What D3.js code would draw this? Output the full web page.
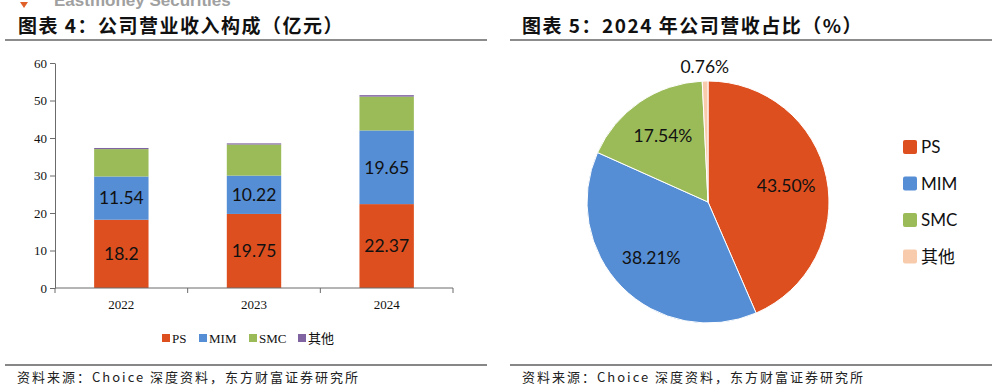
<!DOCTYPE html>
<html>
<head>
<meta charset="utf-8">
<script src="https://cdn.jsdelivr.net/npm/d3@7"></script>
<style>
  body { margin: 0; background: #fff; }
  svg { display: block; }
</style>
</head>
<body>
<svg id="chart" width="997" height="389"></svg>
<script>
// DATA
const years = ['2022', '2023', '2024']
const seriesNames = ['PS', 'MIM', 'SMC', '其他']
const psValues = [18.2, 19.75, 22.37]
const mimValues = [11.54, 10.22, 19.65]
const smcValues = [7.3, 8.3, 9.02]
const otherValues = [0.3, 0.3, 0.39]
const yTicks = [0, 10, 20, 30, 40, 50, 60]

const pieLabels = ['PS', 'MIM', 'SMC', '其他']
const pieShares = [43.50, 38.21, 17.54, 0.76]

const barColors = ['#DE4F1F', '#558ED5', '#9BBB59', '#8064A2']
const pieColors = ['#DE4F1F', '#558ED5', '#9BBB59', '#F8CBAD']

const cjk = '"Noto Sans CJK SC", sans-serif'
const serif = '"Liberation Serif", "Times New Roman", serif'
const lblFont = 'Lato, "Open Sans", sans-serif'

var svg = d3.select('#chart')

// HEADER WATERMARK (cut off at top)
svg.append('path')
  .attr('d', 'M20,2 L28,2 L24,8 Z')
  .attr('fill', '#E0602A')
svg.append('text')
  .attr('x', 54).attr('y', 6)
  .attr('font-family', 'Liberation Sans, Arial, sans-serif')
  .attr('font-weight', 'bold')
  .attr('font-size', 17)
  .attr('fill', '#a0a0a0')
  .text('Eastmoney Securities')

// TITLES
function title(x, txt) {
  svg.append('text')
    .attr('x', x).attr('y', 33)
    .attr('font-family', cjk)
    .attr('font-weight', 'bold')
    .attr('font-size', 19)
    .attr('letter-spacing', 1.5)
    .attr('fill', '#111')
    .text(txt)
}
title(18, '图表 4：公司营业收入构成（亿元）')
title(522, '图表 5：2024 年公司营收占比（%）')

// RULES
svg.append('rect').attr('x', 5).attr('y', 39).attr('width', 482).attr('height', 2).attr('fill', '#8c8c8c')
svg.append('rect').attr('x', 510).attr('y', 39).attr('width', 482).attr('height', 2).attr('fill', '#8c8c8c')
svg.append('rect').attr('x', 5).attr('y', 364.5).attr('width', 482).attr('height', 1).attr('fill', '#111')
svg.append('rect').attr('x', 510).attr('y', 364.5).attr('width', 482).attr('height', 1).attr('fill', '#111')

function source(x) {
  svg.append('text')
    .attr('x', x).attr('y', 382)
    .attr('font-family', cjk)
    .attr('font-size', 13)
    .attr('letter-spacing', 2)
    .attr('fill', '#222')
    .text('资料来源：Choice 深度资料，东方财富证券研究所')
}
source(17)
source(522)

// BAR CHART
var plotLeft = 55, plotRight = 453, plotTop = 63, plotBottom = 288

var x = d3.scaleBand()
  .domain(years)
  .range([plotLeft, plotRight])
  .paddingInner(0.59)
  .paddingOuter(0.295)

var y = d3.scaleLinear()
  .domain([0, 60])
  .range([plotBottom, plotTop])

var rows = years.map((yr, i) => ({
  year: yr,
  PS: psValues[i], MIM: mimValues[i], SMC: smcValues[i], '其他': otherValues[i]
}))
var stacked = d3.stack().keys(seriesNames)(rows)

var bars = svg.append('g')
stacked.forEach((layer, si) => {
  bars.selectAll(null)
    .data(layer)
    .enter()
    .append('rect')
      .attr('x', d => x(d.data.year))
      .attr('width', x.bandwidth())
      .attr('y', d => y(d[1]))
      .attr('height', d => y(d[0]) - y(d[1]))
      .attr('fill', barColors[si])
})

// value labels for PS and MIM
var labelVals = [psValues, mimValues]
stacked.slice(0, 2).forEach((layer, li) => {
  bars.selectAll(null)
    .data(layer)
    .enter()
    .append('text')
      .attr('x', d => x(d.data.year) + x.bandwidth() / 2)
      .attr('y', d => y((d[0] + d[1]) / 2))
      .attr('dy', '0.36em')
      .attr('text-anchor', 'middle')
      .attr('font-family', lblFont)
      .attr('font-size', 17.5)
      .attr('fill', '#111')
      .text((d, i) => String(labelVals[li][i]))
})

// AXES
var axisColor = '#6b6b6b'
var yAxis = svg.append('g')
  .attr('transform', `translate(${plotLeft},0)`)
  .call(d3.axisLeft(y).tickValues(yTicks).tickSize(5).tickSizeOuter(0))
yAxis.select('.domain').attr('stroke', axisColor)
yAxis.selectAll('.tick line').attr('stroke', axisColor)
yAxis.selectAll('.tick text')
  .attr('font-family', serif).attr('font-size', 13).attr('fill', '#111').attr('x', -8)

var bounds = [plotLeft].concat(years.map(d => x(d) + x.bandwidth() + x.step() * x.paddingInner() / 2))
bounds[bounds.length - 1] = plotRight
var xAxisG = svg.append('g')
xAxisG.append('line')
  .attr('x1', plotLeft).attr('x2', plotRight)
  .attr('y1', plotBottom).attr('y2', plotBottom)
  .attr('stroke', axisColor)
xAxisG.selectAll('line.tk')
  .data(bounds)
  .enter()
  .append('line')
    .attr('class', 'tk')
    .attr('x1', d => d).attr('x2', d => d)
    .attr('y1', plotBottom).attr('y2', plotBottom + 5)
    .attr('stroke', axisColor)
xAxisG.selectAll('text')
  .data(years)
  .enter()
  .append('text')
    .attr('x', d => x(d) + x.bandwidth() / 2)
    .attr('y', 309)
    .attr('text-anchor', 'middle')
    .attr('font-family', serif)
    .attr('font-size', 13)
    .attr('fill', '#111')
    .text(d => d)

// LEFT LEGEND
var legX = [162, 199, 249, 298]
var leg = svg.append('g')
seriesNames.forEach((name, i) => {
  leg.append('rect')
    .attr('x', legX[i]).attr('y', 334)
    .attr('width', 8).attr('height', 8)
    .attr('fill', barColors[i])
  leg.append('text')
    .attr('x', legX[i] + 10).attr('y', 343)
    .attr('font-family', i === 3 ? cjk : serif)
    .attr('font-size', 13)
    .attr('fill', '#111')
    .text(name)
})

// PIE CHART
var cx = 708, cy = 202, r = 121
var pie = d3.pie().sort(null).value(d => d)
var arcs = pie(pieShares)
var arc = d3.arc().innerRadius(0).outerRadius(r)
var labelArc = d3.arc().innerRadius(r * 0.66).outerRadius(r * 0.66)
var outerArc = d3.arc().innerRadius(r * 1.12).outerRadius(r * 1.12)

var pieG = svg.append('g').attr('transform', `translate(${cx},${cy})`)
pieG.selectAll('path')
  .data(arcs)
  .enter()
  .append('path')
    .attr('d', arc)
    .attr('fill', (d, i) => pieColors[i])
    .attr('stroke', '#fff')
    .attr('stroke-width', 1)

pieG.selectAll('text')
  .data(arcs)
  .enter()
  .append('text')
    .attr('transform', (d, i) => `translate(${(i === 3 ? outerArc : labelArc).centroid(d)})`)
    .attr('dy', '0.36em')
    .attr('text-anchor', 'middle')
    .attr('font-family', lblFont)
    .attr('font-size', 17.5)
    .attr('fill', '#111')
    .text(d => d3.format('.2f')(d.data) + '%')

// RIGHT LEGEND
var pLeg = svg.append('g')
pieLabels.forEach((name, i) => {
  var cyL = 147 + i * 36.5
  pLeg.append('rect')
    .attr('x', 903).attr('y', cyL - 7)
    .attr('width', 14).attr('height', 14)
    .attr('rx', 2)
    .attr('fill', pieColors[i])
  pLeg.append('text')
    .attr('x', 921).attr('y', cyL)
    .attr('dy', '0.36em')
    .attr('font-family', i === 3 ? cjk : lblFont)
    .attr('font-size', 17)
    .attr('fill', '#111')
    .text(name)
})
</script>
</body>
</html>
